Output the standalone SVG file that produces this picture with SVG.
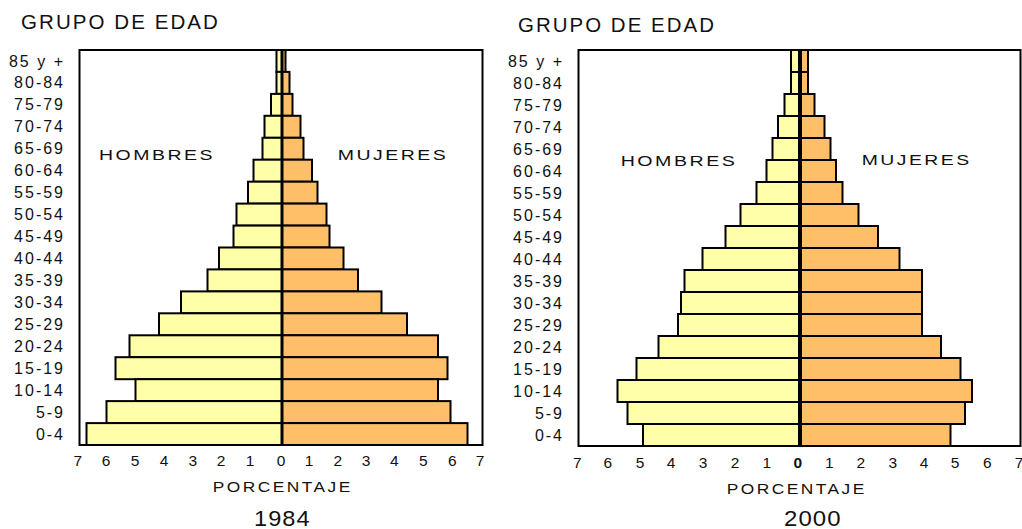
<svg xmlns="http://www.w3.org/2000/svg" width="1022" height="529" viewBox="0 0 1022 529">
<style>
text{font-family:"Liberation Sans",Arial,sans-serif;fill:#111}
.m{fill:#FFFFAA;stroke:#000;stroke-width:2}
.f{fill:#FFBF69;stroke:#000;stroke-width:2}
.box{fill:#fff;stroke:#000;stroke-width:2}
.ctr{stroke:#000}
.title{font-size:20px;letter-spacing:2px}
.lab{font-size:16px;letter-spacing:2px;text-anchor:end}
.sex{font-size:15.5px;letter-spacing:2px}
.ax{font-size:15.5px;text-anchor:middle}
.pc{font-size:14px;letter-spacing:2px}
.yr{font-size:22px;letter-spacing:1px}
</style>
<rect width="1022" height="529" fill="#fff"/>

<g id="chart1984">
<text class="title" x="21" y="29" textLength="199" lengthAdjust="spacingAndGlyphs">GRUPO DE EDAD</text>
<rect class="box" x="79.5" y="50" width="403" height="395"/>
<g id="bars1984">
<rect class="m" x="276.5" y="50" width="5.5" height="21.9"/><rect class="f" x="282" y="50" width="3.5" height="21.9"/>
<rect class="m" x="276.5" y="71.9" width="5.5" height="22"/><rect class="f" x="282" y="71.9" width="7.5" height="22"/>
<rect class="m" x="271" y="93.9" width="11" height="21.9"/><rect class="f" x="282" y="93.9" width="10.5" height="21.9"/>
<rect class="m" x="264.5" y="115.8" width="17.5" height="22"/><rect class="f" x="282" y="115.8" width="18.5" height="22"/>
<rect class="m" x="262.5" y="137.8" width="19.5" height="21.9"/><rect class="f" x="282" y="137.8" width="21.5" height="21.9"/>
<rect class="m" x="253.5" y="159.7" width="28.5" height="22"/><rect class="f" x="282" y="159.7" width="30" height="22"/>
<rect class="m" x="248" y="181.7" width="34" height="21.9"/><rect class="f" x="282" y="181.7" width="35.5" height="21.9"/>
<rect class="m" x="236.5" y="203.6" width="45.5" height="22"/><rect class="f" x="282" y="203.6" width="44.5" height="22"/>
<rect class="m" x="233.5" y="225.6" width="48.5" height="21.9"/><rect class="f" x="282" y="225.6" width="47.5" height="21.9"/>
<rect class="m" x="219" y="247.5" width="63" height="21.9"/><rect class="f" x="282" y="247.5" width="61.5" height="21.9"/>
<rect class="m" x="207.5" y="269.4" width="74.5" height="22"/><rect class="f" x="282" y="269.4" width="76" height="22"/>
<rect class="m" x="181" y="291.4" width="101" height="21.9"/><rect class="f" x="282" y="291.4" width="99.5" height="21.9"/>
<rect class="m" x="159" y="313.3" width="123" height="22"/><rect class="f" x="282" y="313.3" width="125" height="22"/>
<rect class="m" x="129.5" y="335.3" width="152.5" height="21.9"/><rect class="f" x="282" y="335.3" width="156" height="21.9"/>
<rect class="m" x="115.5" y="357.2" width="166.5" height="22"/><rect class="f" x="282" y="357.2" width="165.5" height="22"/>
<rect class="m" x="135.5" y="379.2" width="146.5" height="21.9"/><rect class="f" x="282" y="379.2" width="156" height="21.9"/>
<rect class="m" x="106.5" y="401.1" width="175.5" height="22"/><rect class="f" x="282" y="401.1" width="168.5" height="22"/>
<rect class="m" x="86.5" y="423.1" width="195.5" height="21.9"/><rect class="f" x="282" y="423.1" width="185.5" height="21.9"/>
</g>
<line class="ctr" x1="282" y1="50" x2="282" y2="445" stroke-width="3"/>
<g id="labels1984">
<text class="lab" x="65" y="66.5">85 y +</text>
<text class="lab" x="65" y="88.4">80-84</text>
<text class="lab" x="65" y="110.4">75-79</text>
<text class="lab" x="65" y="132.3">70-74</text>
<text class="lab" x="65" y="154.3">65-69</text>
<text class="lab" x="65" y="176.2">60-64</text>
<text class="lab" x="65" y="198.2">55-59</text>
<text class="lab" x="65" y="220.1">50-54</text>
<text class="lab" x="65" y="242.1">45-49</text>
<text class="lab" x="65" y="264">40-44</text>
<text class="lab" x="65" y="285.9">35-39</text>
<text class="lab" x="65" y="307.9">30-34</text>
<text class="lab" x="65" y="329.8">25-29</text>
<text class="lab" x="65" y="351.8">20-24</text>
<text class="lab" x="65" y="373.7">15-19</text>
<text class="lab" x="65" y="395.7">10-14</text>
<text class="lab" x="65" y="417.6">5-9</text>
<text class="lab" x="65" y="439.6">0-4</text>
</g>
<text class="sex" x="99" y="159.5" textLength="116" lengthAdjust="spacingAndGlyphs">HOMBRES</text>
<text class="sex" x="337.7" y="159.5" textLength="110.7" lengthAdjust="spacingAndGlyphs">MUJERES</text>
<g id="axis1984">
<text class="ax" x="77.7" y="466">7</text>
<text class="ax" x="106" y="466">6</text>
<text class="ax" x="135" y="466">5</text>
<text class="ax" x="164" y="466">4</text>
<text class="ax" x="192.7" y="466">3</text>
<text class="ax" x="221" y="466">2</text>
<text class="ax" x="250" y="466">1</text>
<text class="ax" x="281" y="466">0</text>
<text class="ax" x="309" y="466">1</text>
<text class="ax" x="337.7" y="466">2</text>
<text class="ax" x="366" y="466">3</text>
<text class="ax" x="394.3" y="466">4</text>
<text class="ax" x="423.3" y="466">5</text>
<text class="ax" x="452.3" y="466">6</text>
<text class="ax" x="480" y="466">7</text>
</g>
<text class="pc" x="212.7" y="491.7" textLength="140" lengthAdjust="spacingAndGlyphs">PORCENTAJE</text>
<text class="yr" x="254" y="525.5" textLength="56.7" lengthAdjust="spacingAndGlyphs">1984</text>
</g>

<g id="chart2000">
<text class="title" x="518" y="32.3" textLength="198" lengthAdjust="spacingAndGlyphs">GRUPO DE EDAD</text>
<rect class="box" x="578.5" y="50" width="442" height="396"/>
<g id="bars2000">
<rect class="m" x="791" y="50" width="9" height="22"/><rect class="f" x="800" y="50" width="8" height="22"/>
<rect class="m" x="791" y="72" width="9" height="22"/><rect class="f" x="800" y="72" width="8" height="22"/>
<rect class="m" x="784.5" y="94" width="15.5" height="22"/><rect class="f" x="800" y="94" width="14.5" height="22"/>
<rect class="m" x="778" y="116" width="22" height="22"/><rect class="f" x="800" y="116" width="24.5" height="22"/>
<rect class="m" x="772.5" y="138" width="27.5" height="22"/><rect class="f" x="800" y="138" width="30.5" height="22"/>
<rect class="m" x="766.5" y="160" width="33.5" height="22"/><rect class="f" x="800" y="160" width="36" height="22"/>
<rect class="m" x="756.5" y="182" width="43.5" height="22"/><rect class="f" x="800" y="182" width="42.5" height="22"/>
<rect class="m" x="740.5" y="204" width="59.5" height="22"/><rect class="f" x="800" y="204" width="58.5" height="22"/>
<rect class="m" x="725.5" y="226" width="74.5" height="22"/><rect class="f" x="800" y="226" width="78" height="22"/>
<rect class="m" x="702.5" y="248" width="97.5" height="22"/><rect class="f" x="800" y="248" width="99.5" height="22"/>
<rect class="m" x="684.5" y="270" width="115.5" height="22"/><rect class="f" x="800" y="270" width="122" height="22"/>
<rect class="m" x="681" y="292" width="119" height="22"/><rect class="f" x="800" y="292" width="122" height="22"/>
<rect class="m" x="678" y="314" width="122" height="22"/><rect class="f" x="800" y="314" width="122" height="22"/>
<rect class="m" x="658.5" y="336" width="141.5" height="22"/><rect class="f" x="800" y="336" width="141" height="22"/>
<rect class="m" x="636.5" y="358" width="163.5" height="22"/><rect class="f" x="800" y="358" width="160.5" height="22"/>
<rect class="m" x="617.5" y="380" width="182.5" height="22"/><rect class="f" x="800" y="380" width="172" height="22"/>
<rect class="m" x="627.5" y="402" width="172.5" height="22"/><rect class="f" x="800" y="402" width="165" height="22"/>
<rect class="m" x="643" y="424" width="157" height="22"/><rect class="f" x="800" y="424" width="150.5" height="22"/>
</g>
<line class="ctr" x1="800" y1="50" x2="800" y2="446" stroke-width="4"/>
<g id="labels2000">
<text class="lab" x="564" y="66.5">85 y +</text>
<text class="lab" x="564" y="88.5">80-84</text>
<text class="lab" x="564" y="110.5">75-79</text>
<text class="lab" x="564" y="132.5">70-74</text>
<text class="lab" x="564" y="154.5">65-69</text>
<text class="lab" x="564" y="176.5">60-64</text>
<text class="lab" x="564" y="198.5">55-59</text>
<text class="lab" x="564" y="220.5">50-54</text>
<text class="lab" x="564" y="242.5">45-49</text>
<text class="lab" x="564" y="264.5">40-44</text>
<text class="lab" x="564" y="286.5">35-39</text>
<text class="lab" x="564" y="308.5">30-34</text>
<text class="lab" x="564" y="330.5">25-29</text>
<text class="lab" x="564" y="352.5">20-24</text>
<text class="lab" x="564" y="374.5">15-19</text>
<text class="lab" x="564" y="396.5">10-14</text>
<text class="lab" x="564" y="418.5">5-9</text>
<text class="lab" x="564" y="440.5">0-4</text>
</g>
<text class="sex" x="620.7" y="166" textLength="116.7" lengthAdjust="spacingAndGlyphs">HOMBRES</text>
<text class="sex" x="861.7" y="165" textLength="110" lengthAdjust="spacingAndGlyphs">MUJERES</text>
<g id="axis2000">
<text class="ax" x="577.3" y="467.5">7</text>
<text class="ax" x="607.7" y="467.5">6</text>
<text class="ax" x="640" y="467.5">5</text>
<text class="ax" x="671" y="467.5">4</text>
<text class="ax" x="703" y="467.5">3</text>
<text class="ax" x="735" y="467.5">2</text>
<text class="ax" x="766.7" y="467.5">1</text>
<text class="ax" x="797.7" y="467.5" font-weight="bold">0</text>
<text class="ax" x="829.3" y="467.5">1</text>
<text class="ax" x="860.7" y="467.5">2</text>
<text class="ax" x="892.7" y="467.5">3</text>
<text class="ax" x="924" y="467.5">4</text>
<text class="ax" x="955" y="467.5">5</text>
<text class="ax" x="987.3" y="467.5">6</text>
<text class="ax" x="1019" y="467.5">7</text>
</g>
<text class="pc" x="726.7" y="494" textLength="140" lengthAdjust="spacingAndGlyphs">PORCENTAJE</text>
<text class="yr" x="784" y="525.5" textLength="57.7" lengthAdjust="spacingAndGlyphs">2000</text>
</g>
</svg>
